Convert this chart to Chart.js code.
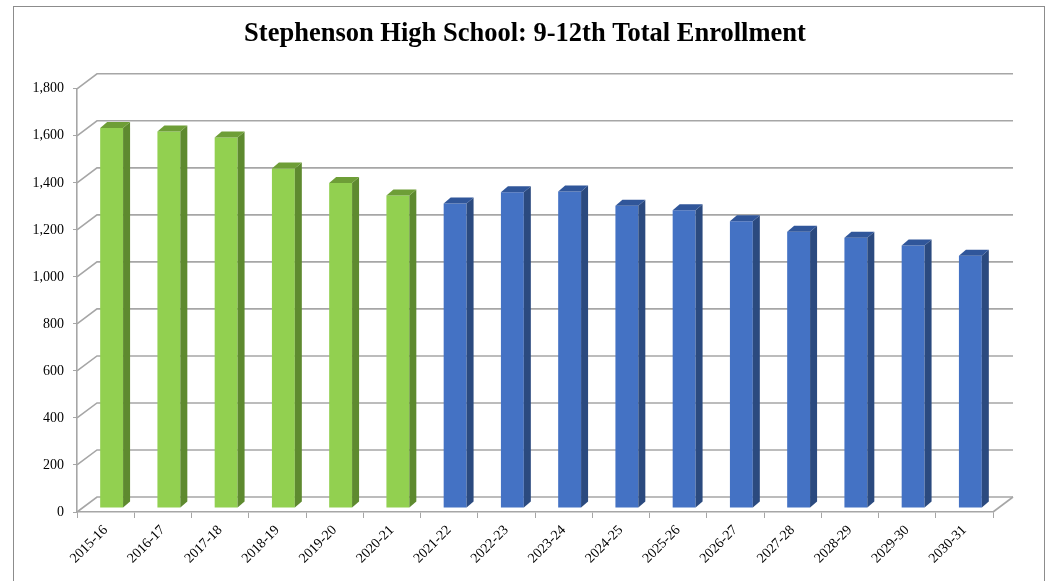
<!DOCTYPE html>
<html>
<head>
<meta charset="utf-8">
<script src="https://cdn.jsdelivr.net/npm/chart.js@4/dist/chart.umd.min.js"></script>
<style>
  body { margin: 0; background: #fff; overflow: hidden; }
  #frame { position: absolute; left: 13px; top: 6px; width: 1030px; height: 620px; border: 1.5px solid #8c8c8c; }
  #firstChart { position: absolute; left: 0; top: 0; }
</style>
</head>
<body>
<div id="frame"></div>
<canvas id="firstChart" width="1050" height="581"></canvas>
<script>
// school years on the x axis
const years = ['2015-16', '2016-17', '2017-18', '2018-19', '2019-20', '2020-21', '2021-22', '2022-23',
  '2023-24', '2024-25', '2025-26', '2026-27', '2027-28', '2028-29', '2029-30', '2030-31'];
// enrollment
const enrollment = [1616, 1601, 1576, 1444, 1382, 1329, 1295, 1343, 1346, 1286, 1266, 1220, 1175, 1149, 1117, 1073];
// first 6 years are actual (green), the rest projected (blue)
const actualCount = 6;
const yTicks = [0, 200, 400, 600, 800, 1000, 1200, 1400, 1600, 1800];

const green = { front: '#92d050', side: '#5e8a2f', top: '#6e9e37' };
const blue = { front: '#4472c4', side: '#2b4a7f', top: '#30569a' };

const DEPTH_X = 20, DEPTH_Y = -15;   // back wall offset
const BAR_DX = 6, BAR_DY = -4;       // bar front face offset
const SIDE_X = 7, SIDE_Y = -6;       // bar depth

const backWall = {
  id: 'backWall',
  beforeDatasetsDraw(chart) {
    const ctx = chart.ctx;
    const y = chart.scales.y, a = chart.chartArea;
    ctx.save();
    ctx.strokeStyle = '#a6a6a6';
    ctx.lineWidth = 1.6;
    yTicks.forEach(v => {
      const py = y.getPixelForValue(v);
      ctx.beginPath();
      ctx.moveTo(a.left, py);
      ctx.lineTo(a.left + DEPTH_X, py + DEPTH_Y);
      ctx.lineTo(a.right + DEPTH_X, py + DEPTH_Y);
      ctx.stroke();
    });
    // floor right edge
    ctx.beginPath();
    ctx.moveTo(a.right, a.bottom);
    ctx.lineTo(a.right + DEPTH_X, a.bottom + DEPTH_Y);
    ctx.stroke();
    ctx.restore();
    // shift bar faces for the 3d look
    ctx.save();
    ctx.translate(BAR_DX, BAR_DY);
  },
  afterDatasetsDraw(chart) {
    const ctx = chart.ctx;
    const meta = chart.getDatasetMeta(0);
    meta.data.forEach((bar, i) => {
      const c = i < actualCount ? green : blue;
      const l = bar.x - bar.width / 2, r = bar.x + bar.width / 2;
      ctx.fillStyle = c.side;
      ctx.beginPath();
      ctx.moveTo(r, bar.y);
      ctx.lineTo(r + SIDE_X, bar.y + SIDE_Y);
      ctx.lineTo(r + SIDE_X, bar.base + SIDE_Y);
      ctx.lineTo(r, bar.base);
      ctx.closePath();
      ctx.fill();
      ctx.fillStyle = c.top;
      ctx.beginPath();
      ctx.moveTo(l, bar.y);
      ctx.lineTo(l + SIDE_X, bar.y + SIDE_Y);
      ctx.lineTo(r + SIDE_X, bar.y + SIDE_Y);
      ctx.lineTo(r, bar.y);
      ctx.closePath();
      ctx.fill();
    });
    ctx.restore();
  }
};

var ctx = document.getElementById('firstChart').getContext('2d');
var chart = new Chart(ctx, {
  type: 'bar',
  data: {
    labels: years,
    datasets: [{
      label: 'Total Enrollment',
      data: enrollment,
      backgroundColor: enrollment.map((v, i) => i < actualCount ? green.front : blue.front),
      borderWidth: 0,
      barPercentage: 0.4,
      categoryPercentage: 1
    }]
  },
  options: {
    responsive: false,
    animation: false,
    devicePixelRatio: 1,
    layout: { padding: 0 },
    plugins: {
      legend: { display: false },
      tooltip: { enabled: false },
      title: {
        display: true,
        text: 'Stephenson High School: 9-12th Total Enrollment',
        color: '#000',
        font: { family: 'Liberation Serif', size: 26.5, weight: 'bold' },
        padding: { top: 18, bottom: 39 }
      }
    },
    scales: {
      x: {
        grid: { drawOnChartArea: false, tickLength: 6, color: '#a6a6a6' },
        border: { color: '#a6a6a6', width: 1.6 },
        ticks: {
          color: '#000',
          font: { family: 'Liberation Serif', size: 14 },
          maxRotation: 45, minRotation: 45,
          padding: 4
        },
        afterFit(s) { s.height = 69; }
      },
      y: {
        min: 0, max: 1800,
        afterBuildTicks(s) { s.ticks = yTicks.map(v => ({ value: v })); },
        grid: { drawOnChartArea: false, tickLength: 4, color: '#a6a6a6' },
        border: { color: '#a6a6a6', width: 1.6 },
        ticks: {
          color: '#000',
          font: { family: 'Liberation Serif', size: 14 },
          padding: 9,
          callback: v => v.toLocaleString('en-US')
        },
        afterFit(s) { s.width = 77; }
      },
      // empty right-hand space so the title centres on the whole page
      spacer: {
        position: 'right',
        display: true,
        grid: { display: false },
        border: { display: false },
        ticks: { display: false },
        afterFit(s) { s.width = 57; }
      }
    }
  },
  plugins: [backWall]
});
</script>
</body>
</html>
